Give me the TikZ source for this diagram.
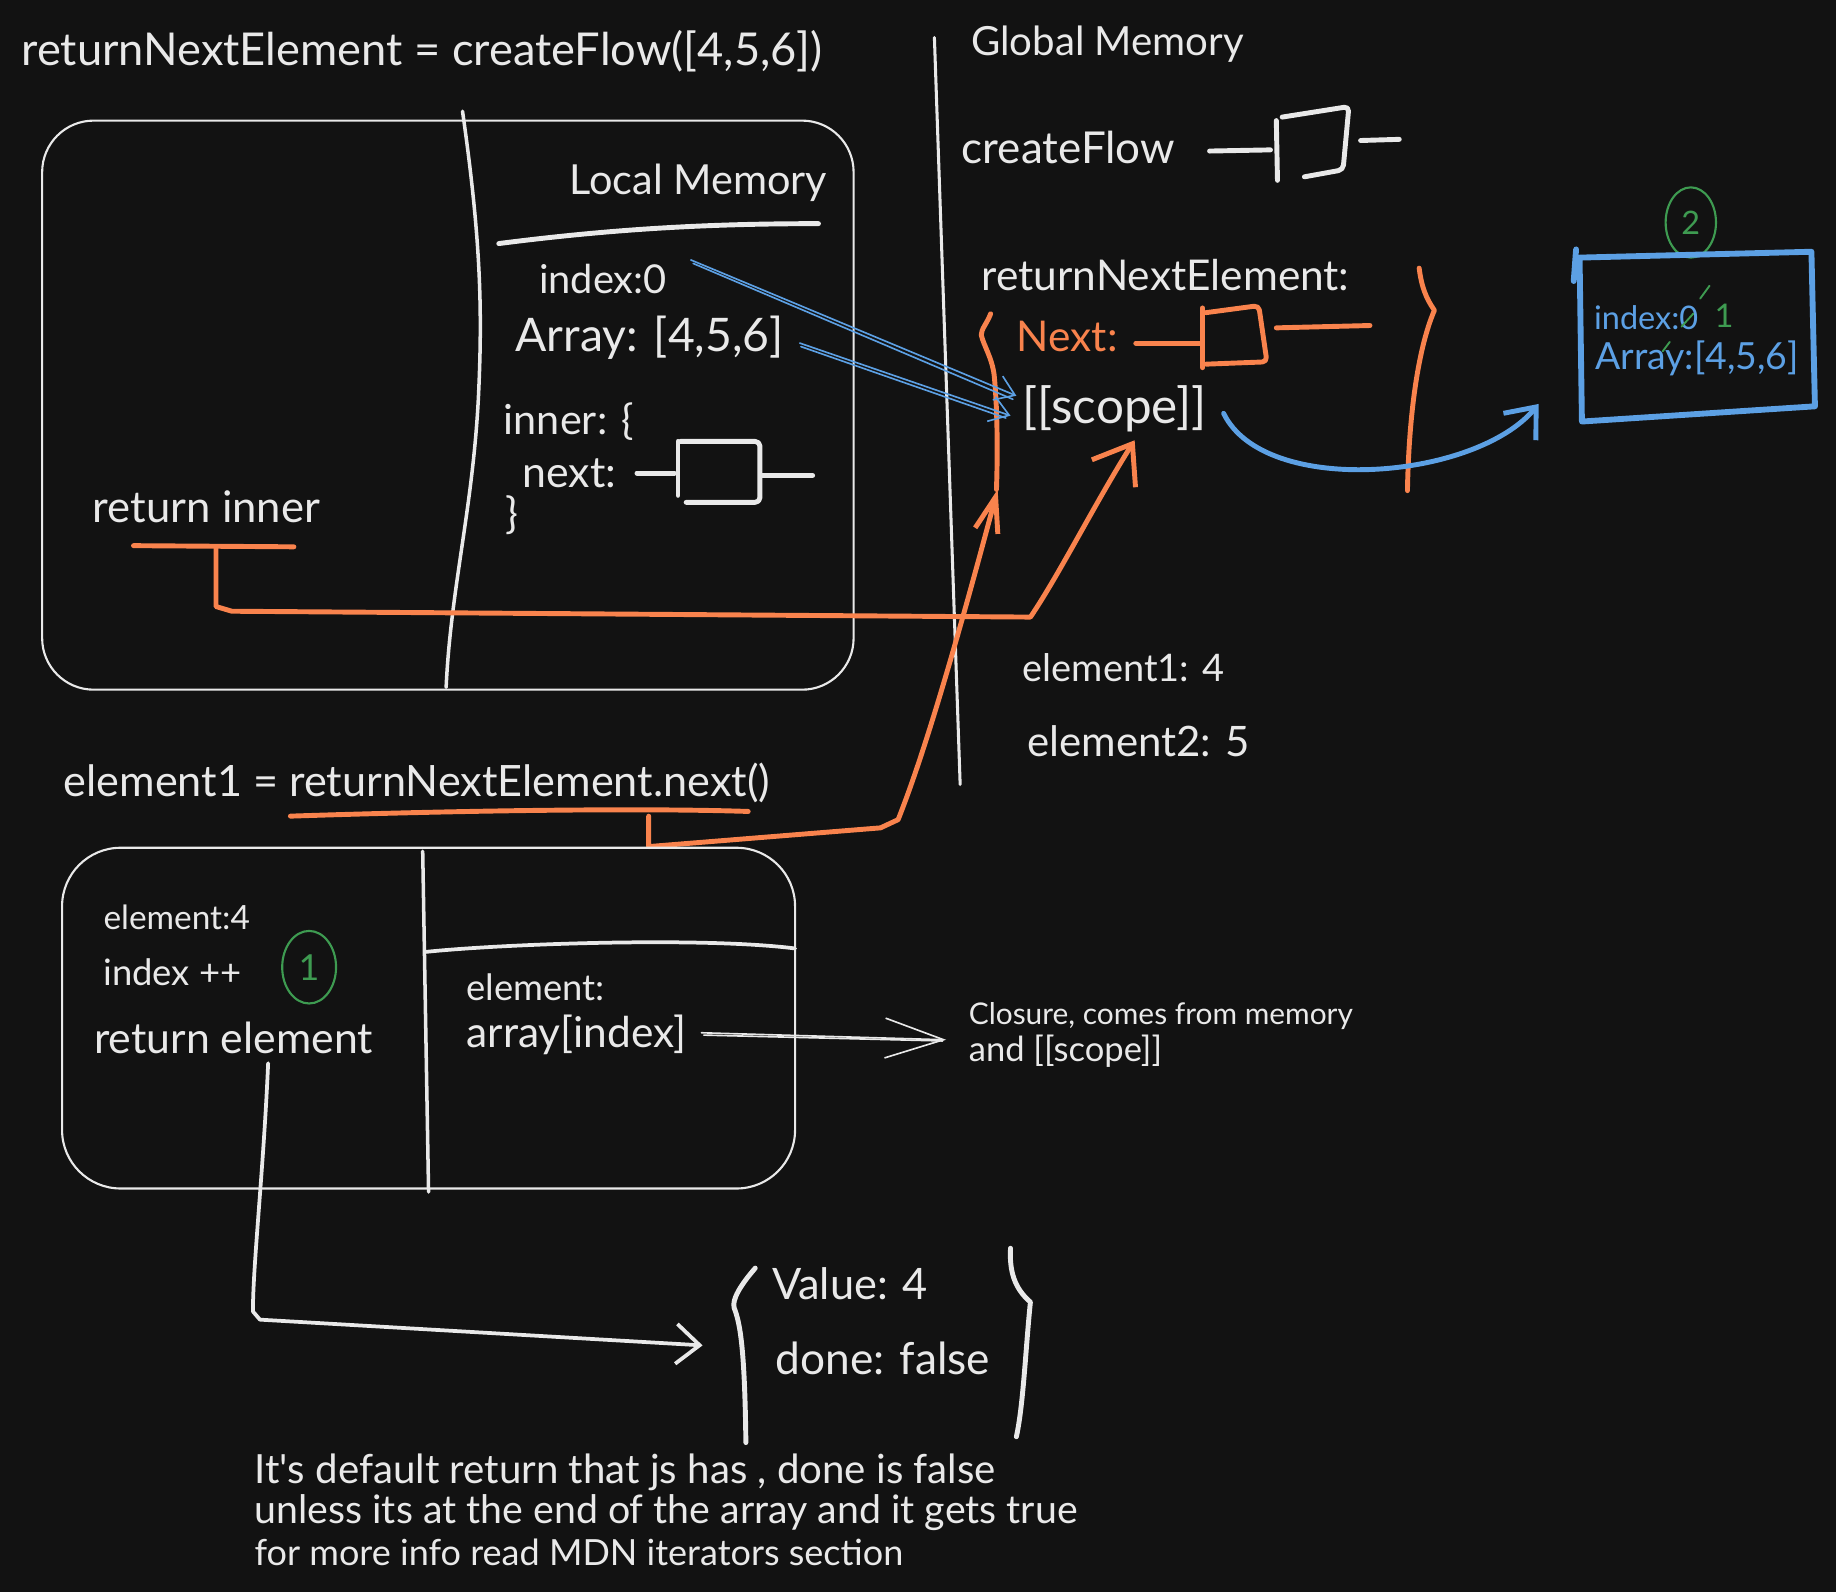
\documentclass[tikz,border=0pt]{standalone}
\usepackage{fontspec}
\setmainfont{Lato}
\usepackage{graphicx}
\usetikzlibrary{arrows.meta,shapes.geometric}
\definecolor{bg}{HTML}{121212}
\definecolor{wht}{HTML}{E9E9E9}
\definecolor{org}{HTML}{F9834D}
\definecolor{blu}{HTML}{5CA0E4}
\definecolor{grn}{HTML}{3E9B51}
\newlength\ul \setlength\ul{0.5pt}
\newcommand\fitw[2]{\resizebox{#1\ul}{!}{#2}}
\newcommand\fith[2]{\resizebox{!}{#1\ul}{#2}}
\tikzset{
  txt/.style={anchor=west, inner sep=0pt, text=wht},
  box/.style={draw=wht, line width=0.9pt},
  wline/.style={draw=wht, line width=1.3pt, line cap=round},
  wthick/.style={draw=wht, line width=2.1pt, line cap=round, line join=round},
  wthin/.style={draw=wht, line width=0.7pt, line cap=round},
  othick/.style={draw=org, line width=2.1pt, line cap=round, line join=round},
  bthin/.style={draw=blu, line width=0.7pt, line cap=round},
  bthick/.style={draw=blu, line width=2.1pt, line cap=round, line join=round},
  gcirc/.style={draw=grn, ellipse, line width=0.9pt, inner sep=0pt, text=grn},
  gmark/.style={draw=grn, line width=0.8pt, line cap=round},
}
\begin{document}
\begin{tikzpicture}[x=0.5pt,y=-0.5pt]
\fill[bg] (0,0) rectangle (1568,1360);
\useasboundingbox (0,0) rectangle (1568,1360);

% ---------- texts ----------
\node[txt] (title) at (18,44) {\fitw{684}{returnNextElement = createFlow([4,5,6])}};
\node[txt] (local) at (486,156) {\fitw{220}{Local Memory}};
\node[txt] (idx) at (460,238) {\fitw{109}{index:0}};
\node[txt] (arr) at (440,288) {\fitw{229}{Array: [4,5,6]}};
\node[txt] (inner) at (430,360) {\fitw{111}{inner: \{}};
\node[txt] (next) at (446,404) {\fitw{80}{next:}};
\node[txt] (rbr) at (431,440) {\fitw{11}{\}}};
\node[txt] (retinner) at (79,433) {\fitw{194}{return inner}};
\node[txt] (global) at (829,38) {\fitw{233}{Global Memory}};
\node[txt] (cflow) at (821,126) {\fitw{182}{createFlow}};
\node[txt] (rne) at (838,235) {\fitw{314}{returnNextElement:}};
\node[txt,text=org] (nxt) at (868,287) {\fitw{86}{Next:}};
\node[txt] (scope) at (873,349) {\fitw{157}{[[scope]]}};
\node[txt] (e1) at (873,570) {\fitw{172}{element1: 4}};
\node[txt] (e2) at (877,633) {\fitw{190}{element2: 5}};
\node[txt,text=blu] (bidx) at (1361,271) {\fitw{89}{index:0}};
\node[txt,text=grn] (bone) at (1464,270) {\fith{20}{1}};
\node[txt,text=blu] (barr) at (1362,306) {\fitw{174}{Array:[4,5,6]}};
\node[gcirc, minimum width=21.5pt, minimum height=30pt] (c2) at (1444,190) {\fith{20}{2}};
\node[txt] (call) at (54,669) {\fitw{603}{element1 = returnNextElement.next()}};
\node[txt] (el4) at (88,783) {\fitw{125}{element:4}};
\node[txt] (idxpp) at (88,830) {\fitw{118}{index ++}};
\node[gcirc, minimum width=23pt, minimum height=31pt] (c1) at (264,826) {\fith{22}{1}};
\node[txt] (retel) at (80,886) {\fitw{238}{return element}};
\node[txt] (elem) at (398,843) {\fitw{118}{element:}};
\node[txt] (arridx) at (398,884) {\fitw{188}{array[index]}};
\node[txt] (clos1) at (827,868) {\fitw{328}{Closure, comes from memory}};
\node[txt] (clos2) at (827,898) {\fitw{165}{and [[scope]]}};
\node[txt] (val) at (659,1096) {\fitw{133}{Value: 4}};
\node[txt] (done) at (662,1160) {\fitw{183}{done: false}};
\node[txt] (cap1) at (217,1257) {\fitw{633}{It\textquotesingle s default return that js has , done is false}};
\node[txt] (cap2) at (217,1292) {\fitw{703}{unless its at the end of the array and it gets true}};
\node[txt] (cap3) at (217,1326) {\fitw{554}{for more info read MDN iterators section}};

% ---------- top frame ----------
\draw[box, rounded corners=22pt] (36,103) rectangle (729,589);
\draw[wline, line width=1.5pt] (395,95) .. controls (410,200) and (412,260) .. (409,330)
   .. controls (405,430) and (385,500) .. (381,587);
\draw[wthick] (426,208) .. controls (520,196) and (600,191) .. (699,191);
% next: function symbol
\draw[wthick] (544,404) -- (576,404);
\draw[wthick] (579,377) -- (579,423);
\draw[wthick, rounded corners=2pt] (581,377) -- (649,377) -- (649,429) -- (586,429);
\draw[wthick] (651,406) -- (694,406);

% ---------- global memory ----------
\draw[wline] (798,32) -- (820,670);
\draw[wthick] (1033,129) -- (1085,128);
\draw[wthick] (1090,103) -- (1091,154);
\draw[wthick, rounded corners=2pt] (1095,100) -- (1152,91) -- (1147,145) -- (1114,151);
\draw[wthick] (1162,120) -- (1195,119);
% Next: orange function symbol
\draw[othick] (970,293) -- (1025,293);
\draw[othick] (1027,263) -- (1027,314);
\draw[othick, rounded corners=2pt] (1030,267) -- (1075,261) -- (1082,309) -- (1030,311);
\draw[othick] (1090,280) -- (1170,278);
% orange braces
\draw[othick] (846,268) .. controls (843,276) and (838,281) .. (838,286)
   .. controls (840,295) and (847,305) .. (849,320)
   .. controls (852,350) and (852,390) .. (851,418);
\draw[othick] (1212,229) .. controls (1214,245) and (1218,255) .. (1225,265)
   .. controls (1210,300) and (1203,360) .. (1202,419);

% blue arrows to [[scope]]
\coordinate (idxend) at (590,222);
\coordinate (arrend) at (683,293);
\coordinate (sc1) at (868,338);
\coordinate (sc2) at (863,355);
\draw[bthin, -{Straight Barb[length=8pt,width=11pt]}] (idxend) -- (sc1);
\draw[bthin] ([shift={(2,3)}]idxend) -- ([shift={(-3,3)}]sc1);
\draw[bthin, -{Straight Barb[length=8pt,width=11pt]}] (arrend) -- (sc2);
\draw[bthin] ([shift={(1,3)}]arrend) -- ([shift={(-4,2)}]sc2);

% blue closure box
\draw[bthick, line width=2.5pt] (1349,220) -- (1547,215) -- (1550,347) -- (1351,360) -- cycle;
\draw[bthick, line width=2.5pt] (1346,213) -- (1344,240);
\coordinate (scopeout) at (1045,353);
\coordinate (boxin) at (1314,345);
\draw[bthick, -{Straight Barb[length=11pt,width=18pt]}] (scopeout)
   .. controls (1080,425) and (1260,410) .. (boxin);
% green corrections
\draw[gmark] (1436,279) -- (1446,268);
\draw[gmark] (1452,255) -- (1460,244);
\draw[gmark] (1420,300) -- (1426,292);

% orange: return inner -> [[scope]]
\draw[othick] (114,466) -- (251,467);
\coordinate (ri) at (184.5,467);
\coordinate (scopein) at (969,376);
\draw[othick, -{Straight Barb[length=15pt,width=22pt]}] (ri) -- (184.5,518) -- (198,522) -- (880,527)
   .. controls (905,490) and (935,430) .. (scopein);

% orange: element1 call -> Next
\draw[othick] (248,697) .. controls (400,692) and (550,690) .. (639,693);
\coordinate (callu) at (554,697);
\coordinate (nextin) at (852,418);
\draw[othick, -{Straight Barb[length=15pt,width=10pt]}] (callu) -- (554,723) -- (752,707) -- (767,700)
   .. controls (795,630) and (830,500) .. (nextin);

% ---------- bottom frame ----------
\draw[box, rounded corners=25pt] (53,724) rectangle (679,1015);
\draw[wline, line width=1.5pt] (361,727) -- (366,1018);
\draw[wline, line width=1.6pt] (363,813) .. controls (430,806) and (600,800) .. (679,810);
\coordinate (ai) at (599,882);
\coordinate (closin) at (808,888);
\draw[wthin, -{Straight Barb[length=25pt,width=17pt]}] (ai) -- (closin);
\draw[wthin] ([shift={(2,2)}]ai) -- ([shift={(-3,1)}]closin);

% return element -> result object
\coordinate (re) at (229,908);
\coordinate (objin) at (600,1149);
\draw[wthick, line width=1.6pt, -{Straight Barb[length=10pt,width=17pt]}] (re)
   .. controls (225,1000) and (216,1080) .. (216,1120) -- (222,1127) -- (objin);
\draw[wthick] (645,1083) .. controls (632,1098) and (625,1110) .. (627,1117)
   .. controls (632,1130) and (636,1150) .. (637,1232);
\draw[wthick] (863,1066) .. controls (862,1085) and (866,1100) .. (880,1112)
   .. controls (876,1150) and (874,1200) .. (868,1227);
\end{tikzpicture}
\end{document}
